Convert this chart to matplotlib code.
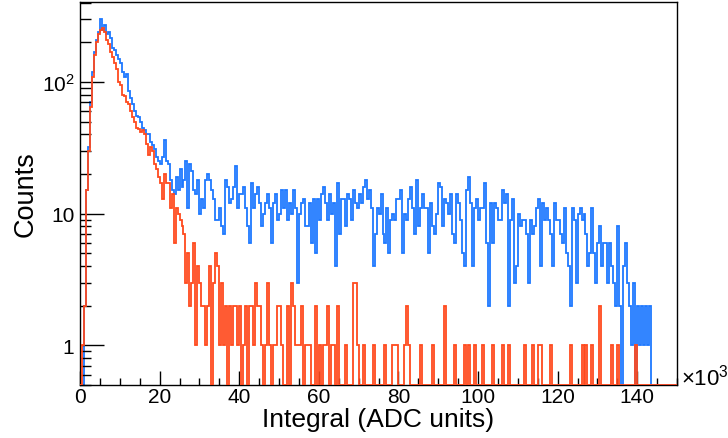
#!/usr/bin/env python3
"""Integral spectra (log scale), two overlaid histograms."""

import matplotlib
matplotlib.use("Agg")
import matplotlib.pyplot as plt
import numpy as np
from matplotlib.ticker import FixedLocator, MultipleLocator, NullFormatter

plt.rcParams["font.family"] = ["Liberation Sans", "DejaVu Sans"]
plt.rcParams["mathtext.fontset"] = "custom"
plt.rcParams["mathtext.rm"] = "Liberation Sans"
plt.rcParams["mathtext.it"] = "Liberation Sans:italic"

# 300 bins of 0.5 x10^3 ADC units from 0 to 150 x10^3
x_min, x_max, n_bins = 0.0, 150.0, 300

counts_blue = [
    0, 0, 2, 15, 32, 70, 120, 170, 210, 240,
    300, 250, 270, 230, 240, 215, 180, 175, 160, 150,
    140, 120, 110, 115, 85, 75, 68, 60, 55, 54,
    50, 45, 43, 40, 40, 35, 33, 31, 27, 25,
    24, 27, 36, 25, 24, 18, 15, 14, 19, 15,
    22, 16, 18, 25, 11, 24, 21, 15, 14, 18,
    10, 13, 11, 18, 20, 18, 15, 13, 9, 9,
    11, 8, 7, 18, 16, 12, 13, 16, 23, 11,
    14, 14, 16, 11, 8, 6, 17, 11, 14, 16,
    12, 8, 10, 12, 14, 11, 6, 12, 14, 9,
    10, 15, 11, 15, 9, 12, 10, 15, 11, 3,
    10, 12, 13, 8, 8, 12, 6, 13, 5, 13,
    9, 14, 16, 12, 9, 14, 10, 12, 4, 17,
    7, 13, 13, 8, 14, 13, 9, 15, 12, 11,
    14, 12, 16, 18, 13, 15, 11, 4, 7, 11,
    10, 14, 7, 6, 11, 5, 9, 10, 9, 13,
    13, 15, 5, 10, 9, 13, 16, 11, 7, 18,
    8, 11, 14, 11, 11, 5, 12, 8, 7, 10,
    17, 16, 8, 13, 12, 10, 14, 7, 6, 14,
    12, 9, 5, 4, 15, 19, 12, 4, 11, 13,
    9, 11, 11, 17, 6, 2, 12, 6, 12, 11,
    9, 9, 15, 12, 14, 2, 9, 13, 3, 4,
    10, 8, 9, 9, 7, 3, 9, 7, 8, 11,
    13, 4, 12, 9, 11, 9, 7, 4, 12, 9,
    9, 7, 6, 11, 5, 4, 2, 11, 9, 3,
    10, 11, 9, 10, 7, 4, 5, 11, 5, 3,
    6, 8, 4, 6, 6, 3, 6, 4, 3, 2,
    8, 2, 0, 4, 6, 3, 2, 1, 3, 0,
    2, 1, 2, 1, 2, 1, 2, 0, 0, 0,
    0, 0, 0, 0, 0, 0, 0, 0, 0, 0,
]

counts_red = [
    0, 1, 2, 15, 30, 65, 110, 160, 200, 230,
    250, 255, 240, 210, 195, 170, 155, 140, 125, 100,
    95, 80, 78, 70, 68, 60, 54, 50, 45, 44,
    42, 43, 40, 34, 28, 32, 30, 24, 22, 19,
    17, 13, 20, 17, 17, 11, 14, 6, 11, 10,
    9, 8, 7, 3, 5, 2, 3, 6, 1, 4,
    3, 2, 2, 1, 2, 4, 0, 3, 5, 4,
    1, 3, 1, 2, 0, 2, 1, 2, 2, 1,
    2, 0, 1, 2, 0, 2, 2, 1, 3, 2,
    2, 1, 0, 1, 3, 1, 0, 1, 1, 2,
    2, 1, 0, 0, 2, 0, 3, 2, 1, 1,
    1, 2, 0, 1, 1, 1, 0, 0, 2, 0,
    1, 0, 1, 1, 2, 0, 1, 1, 0, 2,
    0, 0, 0, 1, 0, 0, 0, 3, 3, 1,
    0, 0, 1, 0, 0, 0, 0, 1, 0, 0,
    0, 0, 0, 1, 0, 0, 0, 1, 1, 1,
    0, 0, 0, 1, 2, 1, 0, 0, 0, 0,
    0, 1, 0, 0, 0, 0, 0, 1, 0, 0,
    0, 0, 0, 2, 0, 0, 0, 0, 1, 0,
    0, 0, 0, 1, 0, 1, 0, 0, 1, 0,
    0, 0, 1, 0, 0, 0, 0, 1, 0, 0,
    0, 0, 1, 0, 0, 1, 0, 0, 0, 0,
    0, 0, 0, 1, 0, 0, 0, 1, 0, 0,
    1, 1, 0, 0, 0, 0, 1, 0, 0, 0,
    0, 0, 0, 0, 0, 0, 1, 0, 0, 0,
    0, 0, 1, 0, 1, 0, 0, 1, 0, 0,
    0, 2, 0, 0, 0, 0, 0, 1, 0, 0,
    1, 0, 0, 0, 0, 0, 0, 0, 0, 1,
    0, 0, 0, 0, 0, 0, 0, 0, 0, 0,
    0, 0, 0, 0, 0, 0, 0, 0, 0, 0,
]

x_ticks = [0, 20, 40, 60, 80, 100, 120, 140]
y_ticks = [1, 10, 100]
y_tick_labels = ["1", "10", "$10^{2}$"]

BLUE = "#1e78ff"
RED = "#ff4a1e"
Y_MIN, Y_MAX = 0.5, 405.0


def main():
    edges = np.linspace(x_min, x_max, n_bins + 1)
    blue = np.asarray(counts_blue, dtype=float)
    red = np.asarray(counts_red, dtype=float)

    fig = plt.figure(figsize=(7.28, 4.39), dpi=100)
    ax = fig.add_axes([0.1099, 0.1207, 0.8201, 0.8725])

    # empty bins sit on the bottom of the log axis, as ROOT draws them
    ax.stairs(np.where(blue > 0, blue, Y_MIN), edges, baseline=None,
              color=BLUE, lw=1.3)
    ax.stairs(np.where(red > 0, red, Y_MIN), edges, baseline=None,
              color=RED, lw=1.3, zorder=3)

    ax.set_yscale("log")
    ax.set_xlim(x_min, x_max)
    ax.set_ylim(Y_MIN, Y_MAX)

    ax.xaxis.set_major_locator(FixedLocator(x_ticks))
    ax.xaxis.set_minor_locator(MultipleLocator(5))
    ax.yaxis.set_major_locator(FixedLocator(y_ticks))
    ax.set_yticklabels(y_tick_labels)
    minors = [m * d for d in (0.1, 1, 10, 100) for m in range(2, 10)]
    ax.yaxis.set_minor_locator(FixedLocator(minors))
    ax.yaxis.set_minor_formatter(NullFormatter())

    ax.tick_params(axis="both", which="both", direction="in",
                   top=False, right=False, labelsize=15, width=1.0)
    ax.tick_params(axis="x", which="major", length=10, pad=1.5)
    ax.tick_params(axis="x", which="minor", length=5)
    ax.tick_params(axis="y", which="major", length=17, pad=4)
    ax.tick_params(axis="y", which="minor", length=8)
    for s in ax.spines.values():
        s.set_linewidth(1.0)

    ax.set_xlabel("Integral (ADC units)", fontsize=19, labelpad=1)
    ax.set_ylabel("Counts", fontsize=19.5, labelpad=2)
    fig.text(0.936, 0.139, r"$\times$10$^{3}$", fontsize=16,
             ha="left", va="center")

    fig.savefig("out.png", dpi=100)
    plt.close(fig)


if __name__ == "__main__":
    main()
